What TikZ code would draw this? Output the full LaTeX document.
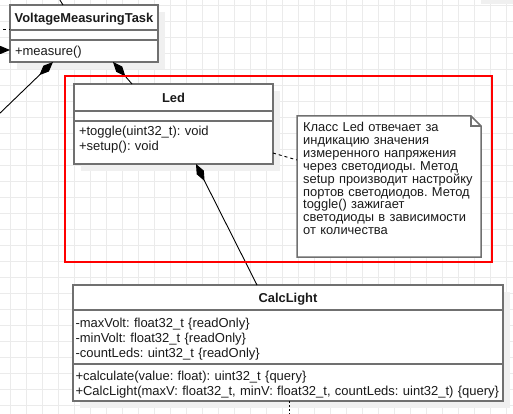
\documentclass[tikz,border=0pt]{standalone}
\usepackage{fontspec}
\setmainfont{Liberation Sans}
\usepackage{tikz}
\usetikzlibrary{arrows.meta,positioning,calc,shadows}
\definecolor{umlgrey}{HTML}{707070}
\definecolor{umltext}{HTML}{1A1A1A}
\definecolor{gridgrey}{HTML}{EBEBEB}
\definecolor{shadegrey}{HTML}{F0F0F0}
\definecolor{hilite}{HTML}{FF0000}
\frenchspacing

\begin{document}
\begin{tikzpicture}[
  x=1pt, y=-1pt,
  gridline/.style={gridgrey, line width=1pt},
  boxshade/.style={general shadow={fill=shadegrey, shadow xshift=7pt, shadow yshift=-7pt}},
  head/.style={draw=umlgrey, line width=1.5pt, fill=white, outer sep=0pt, inner sep=0pt, minimum width=#1, text height=9.4pt, text depth=0pt, text=umltext, font=\fontsize{12.9}{15}\selectfont\bfseries, boxshade},
  part/.style={draw=umlgrey, line width=1.5pt, fill=white, outer sep=0pt, inner ysep=0pt, inner xsep=5pt, text width=#1, text height=9.4pt, align=left, text=umltext, font=\fontsize{13}{15}\selectfont, boxshade},
  comp/.style={-{Diamond[length=19pt, width=8pt]}, line width=0.9pt, black},
  dep/.style={dashed, line width=0.9pt, black},
  noteline/.style={draw=umlgrey, line width=1.5pt, line join=miter},
  notetext/.style={inner xsep=6pt, inner ysep=6pt, text width=178pt, align=left, text=umltext, font=\fontsize{12.9}{12.9}\selectfont},
  hiliteframe/.style={draw=hilite, line width=2.8pt}
]
  \useasboundingbox (0,0) rectangle (513,414);
  \clip (0,0) rectangle (513,414);

  % canvas grid
  \foreach \gx in {-5.5,10.5,...,522.5}
    \draw[gridline] (\gx,-5) -- (\gx,420);
  \foreach \gy in {5.5,21.5,...,421.5}
    \draw[gridline] (-5,\gy) -- (520,\gy);
  \fill[shadegrey] (481,-10) rectangle (520,4);

  % VoltageMeasuringTask
  \node[head=148pt, minimum height=25pt, anchor=north west] (vmtHead) at (10,5) {VoltageMeasuringTask};
  \node[part=138pt, minimum height=10pt, text height=0pt, text depth=0pt, below=0pt of vmtHead] (vmtAttrs) {};
  \node[part=138pt, minimum height=22pt, text depth=0.2pt, below=0pt of vmtAttrs] (vmtOps) {+measure()};

  % Led
  \node[head=199pt, minimum height=27pt, anchor=north west] (ledHead) at (74,84) {Led};
  \node[part=189pt, minimum height=10pt, text height=0pt, text depth=0pt, below=0pt of ledHead] (ledAttrs) {};
  \node[part=189pt, minimum height=43pt, text depth=23.2pt, below=0pt of ledAttrs] (ledOps) {+toggle(uint32\_t): void\\+setup(): void};

  % CalcLight
  \node[head=430pt, minimum height=25pt, anchor=north west] (calcHead) at (73,285) {CalcLight};
  \node[part=425pt, inner xsep=2.5pt, minimum height=54pt, text depth=28.2pt, below=0pt of calcHead] (calcAttrs)
    {-maxVolt: float32\_t \{readOnly\}\\-minVolt: float32\_t \{readOnly\}\\-countLeds: uint32\_t \{readOnly\}};
  \node[part=425pt, inner xsep=2.5pt, minimum height=37pt, text depth=13.2pt, below=0pt of calcAttrs] (calcOps)
    {+calculate(value: float): uint32\_t \{query\}\\\mbox{+CalcLight(maxV: float32\_t, minV: float32\_t, countLeds: uint32\_t) \{query\}}};

  % note on Led
  \coordinate (noteCorner) at (297,116);
  \draw[noteline, fill=white] (noteCorner) -- ++(174,0) -- ++(10,10) -- ++(0,131) -- ++(-184,0) -- cycle;
  \draw[noteline] ($(noteCorner)+(174,0)$) -- ++(0,10) -- ++(10,0);
  \node[notetext, anchor=north west] (ledNote) at (noteCorner)
    {Класс Led отвечает за\\индикацию значения\\измеренного напряжения\\через светодиоды. Метод\\setup производит настройку\\портов светодиодов. Метод\\toggle() зажигает\\светодиоды в зависимости\\от количества};

  % ends of links leaving the canvas
  \coordinate (offTop) at (58,-3);
  \coordinate (offDash) at (-3,29);
  \coordinate (offMid) at (-25,50);
  \coordinate (offLeft) at (-3,116);
  \coordinate (offBottom) at (289,420);

  % links
  \draw[comp] ($(calcHead.north west)+(184,0)$) -- ($(ledOps.south west)+(122,0)$);
  \draw[comp] ($(ledHead.north west)+(58,0)$) -- ($(vmtOps.south west)+(103,0)$);
  \draw[comp] (offLeft) -- ($(vmtOps.south west)+(43,0)$);
  \draw[comp] (offMid) -- ($(vmtOps.north west)+(0,10)$);
  \draw[line width=0.9pt] (offTop) -- ($(vmtHead.north west)+(53,0)$);
  \draw[dep] (offDash) -- ($(vmtHead.south west)+(0,-1)$);
  \draw[dep] ($(ledOps.south east)+(0,-11)$) -- ($(ledNote.north west)+(0,44)$);
  \draw[line width=0.9pt, dash pattern=on 1.5pt off 2.5pt] ($(calcOps.south west)+(216,0)$) -- (offBottom);

  % highlight
  \draw[hiliteframe] (65,76) rectangle (492,262);
\end{tikzpicture}
\end{document}
